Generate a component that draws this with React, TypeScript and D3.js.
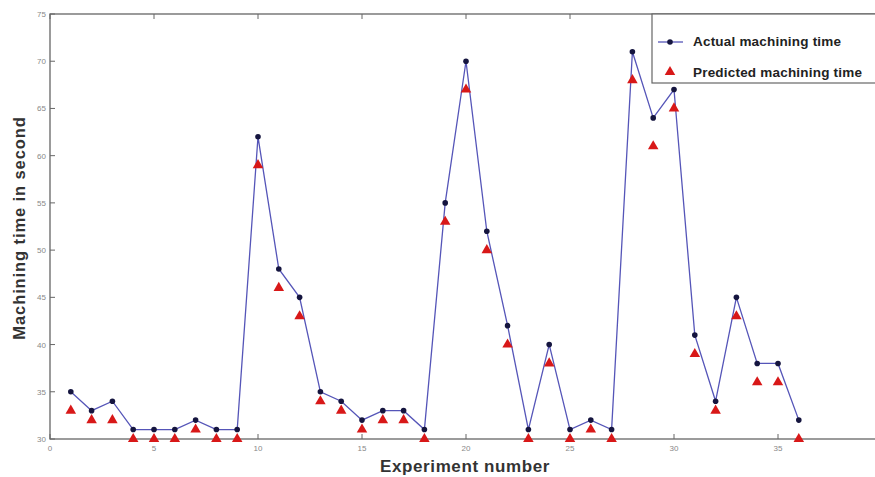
import * as d3 from "d3";

const experiments = d3.range(1, 37);
const actual = [35, 33, 34, 31, 31, 31, 32, 31, 31, 62, 48, 45, 35, 34, 32, 33, 33, 31, 55, 70, 52, 42, 31, 40, 31, 32, 31, 71, 64, 67, 41, 34, 45, 38, 38, 32];
const predicted = [33, 32, 32, 30, 30, 30, 31, 30, 30, 59, 46, 43, 34, 33, 31, 32, 32, 30, 53, 67, 50, 40, 30, 38, 30, 31, 30, 68, 61, 65, 39, 33, 43, 36, 36, 30];
const xTicks = [0, 5, 10, 15, 20, 25, 30, 35];
const yTicks = [30, 35, 40, 45, 50, 55, 60, 65, 70, 75];
const legendLabels = ["Actual machining time", "Predicted machining time"];

const width = 875;
const height = 477;
const axisColor = "#666";
const font = "Arial, Liberation Sans";

const App = () => {
    // plot area runs a little past the right edge of the picture, like the original crop
    const x = d3.scaleLinear([0, 40], [50, 882]);
    const y = d3.scaleLinear([30, 75], [439, 14]);

    const line = d3.line<number>((d, i) => x(experiments[i]), (d) => y(d));
    const tri = d3.symbol(d3.symbolTriangle, 48);

    return (
        <svg width={width} height={height} style={{position: "absolute", left: 0, top: 0}}>
            <rect width={width} height={height} fill="white" />

            {/* frame */}
            <rect x={x(0)} y={y(75)} width={x(40) - x(0)} height={y(30) - y(75)} fill="none" stroke={axisColor} strokeWidth="1.3" />

            {/* x ticks */}
            {xTicks.map((t) => (
                <g key={"x" + t}>
                    <line x1={x(t)} x2={x(t)} y1={y(30)} y2={y(30) - 5} stroke={axisColor} />
                    <line x1={x(t)} x2={x(t)} y1={y(75)} y2={y(75) + 5} stroke={axisColor} />
                    <text x={x(t)} y={y(30) + 12} fontSize="8" fill="#888" textAnchor="middle" fontFamily={font}>{t}</text>
                </g>
            ))}

            {/* y ticks */}
            {yTicks.map((t) => (
                <g key={"y" + t}>
                    <line x1={x(0)} x2={x(0) + 5} y1={y(t)} y2={y(t)} stroke={axisColor} />
                    <line x1={x(40)} x2={x(40) - 5} y1={y(t)} y2={y(t)} stroke={axisColor} />
                    <text x={x(0) - 4} y={y(t) + 3} fontSize="8" fill="#888" textAnchor="end" fontFamily={font}>{t}</text>
                </g>
            ))}

            {/* actual series */}
            <path d={line(actual) ?? ""} fill="none" stroke="#5555b8" strokeWidth="1.3" />
            {actual.map((v, i) => (
                <circle key={"a" + i} cx={x(experiments[i])} cy={y(v)} r="2.8" fill="#15153f" />
            ))}

            {/* predicted series */}
            {predicted.map((v, i) => (
                <path key={"p" + i} d={tri() ?? ""} transform={`translate(${x(experiments[i])},${y(v)})`} fill="#d81818" />
            ))}

            {/* axis titles */}
            <text x={465} y={472} fontSize="17" fontWeight="bold" fill="#333" textAnchor="middle" letterSpacing="0.6" fontFamily={font}>Experiment number</text>
            <text transform={`translate(25,228) rotate(-90)`} fontSize="16.5" fontWeight="bold" fill="#333" textAnchor="middle" letterSpacing="0.9" fontFamily={font}>Machining time in second</text>

            {/* legend */}
            <g>
                <rect x={652} y={y(75)} width={240} height={69} fill="white" stroke={axisColor} strokeWidth="1.2" />
                <line x1={658} x2={683} y1={42} y2={42} stroke="#5555b8" strokeWidth="1.3" />
                <circle cx={670} cy={42} r="2.8" fill="#15153f" />
                <text x={693} y={46} fontSize="13.5" fontWeight="bold" fill="#222" letterSpacing="0.2" fontFamily={font}>{legendLabels[0]}</text>
                <path d={tri() ?? ""} transform="translate(670,72)" fill="#d81818" />
                <text x={693} y={77} fontSize="13.5" fontWeight="bold" fill="#222" letterSpacing="0.2" fontFamily={font}>{legendLabels[1]}</text>
            </g>
        </svg>
    );
};

export default App;
